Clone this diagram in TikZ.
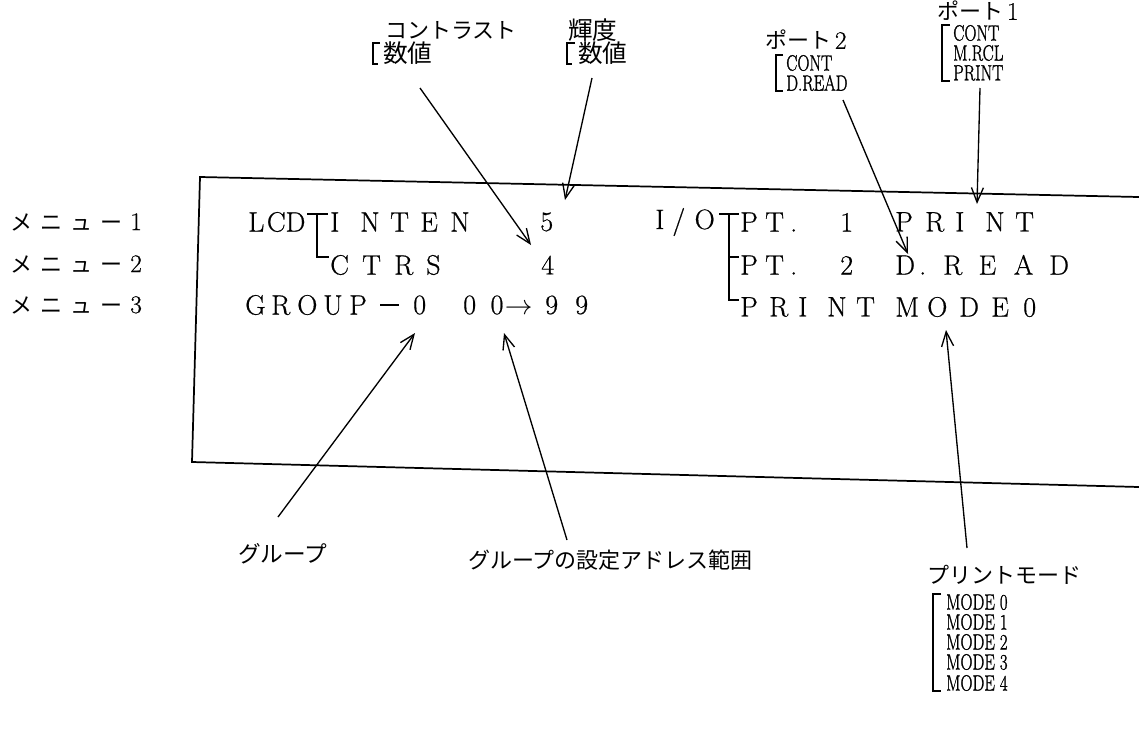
\documentclass[tikz,border=0pt]{standalone}
\usepackage{fontspec}
\newfontfamily\cjk{Noto Sans CJK JP}
\newfontfamily\bxf{Latin Modern Roman}[FakeBold=0.6]
\newfontfamily\cnf{Latin Modern Roman}[FakeBold=1.4]
\usetikzlibrary{arrows.meta}
\newcommand\spread[2]{\def\sppitch{#1}\spreadi#2\endspread}
\def\spreadi#1{\ifx\endspread#1\else\makebox[\sppitch][l]{#1}\expandafter\spreadi\fi}
\newcommand\bx{\fontsize{21}{21}\selectfont\bxf}
\newcommand\jp{\fontsize{16.5}{16.5}\selectfont\cjk}
\newcommand\jk{\fontsize{18.5}{18.5}\selectfont\cjk}
\newcommand\cn[1]{\scalebox{0.76}[1]{\fontsize{16.5}{16.5}\selectfont\cnf #1}}
\newcommand\dg[1]{{\bxf\fontsize{19}{19}\selectfont #1}}
\tikzset{
  boxline/.style={line width=1.3pt},
  arr/.style={-{Straight Barb[length=11pt,width=9pt]}, line width=1pt},
  tree/.style={line width=1pt},
  lbl/.style={inner sep=0pt, anchor=west},
}
\begin{document}
\begin{tikzpicture}[x=0.75pt,y=-0.75pt]
\useasboundingbox (0,0) rectangle (1139,729);
% frame
\coordinate (tr) at (1139,197);
\coordinate (tl) at (200,177);
\coordinate (bl) at (192,462);
\coordinate (br) at (1139,487);
\draw[boxline] (tr) -- (tl) -- (bl) -- (br);

% menu labels
\node[lbl] (m1) at (10,222) {\jp\spread{22.5pt}{メニュー{\dg{1}}}};
\node[lbl] (m2) at (10,264) {\jp\spread{22.5pt}{メニュー{\dg{2}}}};
\node[lbl] (m3) at (10,305) {\jp\spread{22.5pt}{メニュー{\dg{3}}}};

% left block
\node[lbl] (lcd) at (248,222) {\bx\spread{14pt}{LCD}};
\node[lbl] (inten) at (330,222) {\bx\spread{22.5pt}{INTEN}};
\node[lbl] (v5) at (540,222) {\bx 5};
\node[lbl] (ctrs) at (330,265) {\bx\spread{24pt}{CTRS}};
\node[lbl] (v4) at (541,265) {\bx 4};
\node[lbl] (grp) at (245,305) {\bx\spread{19.5pt}{GROUP}};
\node[lbl] (dash) at (380,305) {\rule[0pt]{14pt}{1.1pt}};
\node[lbl] (g0) at (413,305) {\bx 0};
\node[lbl] (rng) at (463,305) {\bx\spread{20.5pt}{0{0\hspace{1pt}$\rightarrow$}}};
\node[lbl] (rng2) at (545,305) {\bx\spread{22.5pt}{99}};
\coordinate (t1a) at (307,214);
\coordinate (t1b) at (317,214);
\coordinate (t1c) at (317,257);
\coordinate (t1d) at (329,257);
\coordinate (t1e) at (328,214);
\draw[tree] (t1a) -- (t1e);
\draw[tree] (t1b) -- (t1c) -- (t1d);

% right block
\node[lbl] (io) at (655,222) {\bx I\hspace{6pt}/\hspace{7pt}O};
\node[lbl] (pt1) at (740,222) {\bx\spread{18.75pt}{PT.~1}};
\node[lbl] (vprint) at (895,222) {\bx\spread{22.5pt}{PRINT}};
\node[lbl] (pt2) at (740,265) {\bx\spread{18.75pt}{PT.~2}};
\node[lbl] (vd) at (895,265) {\bx\spread{18pt}{D.}};
\node[lbl] (vread) at (943,265) {\bx\spread{26.5pt}{READ}};
\node[lbl] (pm) at (740,307) {\bx\spread{21.75pt}{PRINT}};
\node[lbl] (mode) at (895,307) {\bx\spread{24pt}{MODE}{\bx 0}};
\coordinate (t2a) at (719,214);
\coordinate (t2b) at (729,214);
\coordinate (t2c) at (729,300);
\coordinate (t2d) at (739,300);
\coordinate (t2e) at (739,214);
\coordinate (t2f) at (729,257);
\coordinate (t2g) at (739,257);
\draw[tree] (t2a) -- (t2e);
\draw[tree] (t2b) -- (t2c) -- (t2d);
\draw[tree] (t2f) -- (t2g);

% top labels
\node[lbl] (ctr) at (385,30) {\jp コントラスト};
\node[lbl] (ctrv) at (383,53) {\jk 数値};
\draw[tree] (380,43) -- (373,43) -- (373,64) -- (378,64);
\node[lbl] (kido) at (568,30) {\jk 輝度};
\node[lbl] (kidov) at (578,53) {\jk 数値};
\draw[tree] (575,43) -- (567,43) -- (567,64) -- (572,64);

\node[lbl] (p2) at (765,40) {\jp ポート\,\dg{2}};
\node[lbl] (p2a) at (786,63) {\cn{CONT}};
\node[lbl] (p2b) at (786,83) {\cn{D.READ}};
\draw[tree] (783,55) -- (776,55) -- (776,91) -- (783,91);

\node[lbl] (p1) at (937,11) {\jp ポート\,\dg{1}};
\node[lbl] (p1a) at (953,33) {\cn{CONT}};
\node[lbl] (p1b) at (953,53) {\cn{M.RCL}};
\node[lbl] (p1c) at (953,73) {\cn{PRINT}};
\draw[tree] (950,25) -- (942,25) -- (942,81) -- (950,81);

\node[lbl] (grpl) at (238,554) {\fontsize{17}{17}\selectfont\cjk グループ};
\node[lbl] (rngl) at (468,560) {\jp グループの設定アドレス範囲};
\node[lbl] (pml) at (927,575) {\jp プリントモード};
\node[lbl] (md0) at (946,602) {\cn{MODE 0}};
\node[lbl] (md1) at (946,622) {\cn{MODE 1}};
\node[lbl] (md2) at (946,642) {\cn{MODE 2}};
\node[lbl] (md3) at (946,662) {\cn{MODE 3}};
\node[lbl] (md4) at (946,683) {\cn{MODE 4}};
\draw[tree] (941,594) -- (933,594) -- (933,691) -- (941,691);

% arrows
\coordinate (a1s) at (420,88);  \coordinate (a1e) at (531,245);
\coordinate (a2s) at (592,78);  \coordinate (a2e) at (565,200);
\coordinate (a3s) at (843,100); \coordinate (a3e) at (908,254);
\coordinate (a4s) at (980,88);  \coordinate (a4e) at (977,204);
\coordinate (a5s) at (278,517); \coordinate (a5e) at (415,333);
\coordinate (a6s) at (567,540); \coordinate (a6e) at (504,333);
\coordinate (a7s) at (967,548); \coordinate (a7e) at (946,330);
\draw[arr] (a1s) -- (a1e);
\draw[arr] (a2s) -- (a2e);
\draw[arr] (a3s) -- (a3e);
\draw[arr] (a4s) -- (a4e);
\draw[arr] (a5s) -- (a5e);
\draw[arr] (a6s) -- (a6e);
\draw[arr] (a7s) -- (a7e);
\end{tikzpicture}
\end{document}
